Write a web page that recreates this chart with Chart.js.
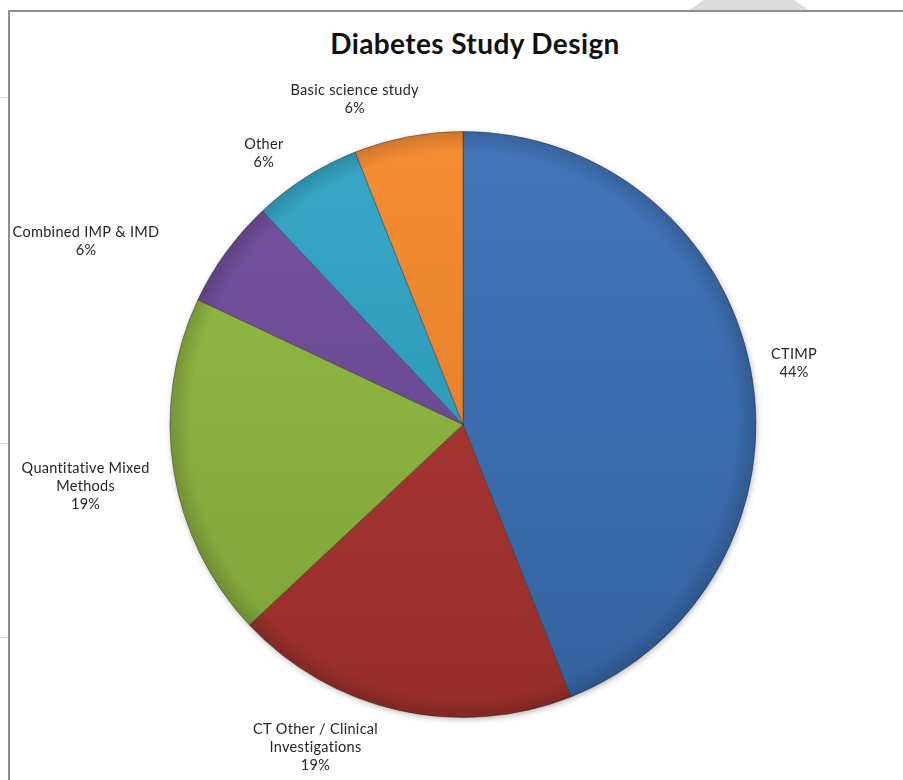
<!DOCTYPE html>
<html>
<head>
<meta charset="utf-8">
<title>Diabetes Study Design</title>
<script src="https://cdn.jsdelivr.net/npm/chart.js@4.4.1/dist/chart.umd.min.js"></script>
<style>
  html, body { margin: 0; padding: 0; background: #fff; overflow: hidden; }
  #wrap { position: relative; width: 903px; height: 780px; }
  #frame { position: absolute; left: 8px; top: 10px; width: 920px; height: 800px;
           border-top: 2px solid #8f8f8f; border-left: 2px solid #8f8f8f; }
  #tab { position: absolute; top: 0; left: 688px; width: 122px; height: 11px; background: #dcdcdc;
         clip-path: polygon(13% 0, 87% 0, 100% 100%, 0 100%); }
  .tick { position: absolute; left: 0; width: 8px; height: 1px; background: #d6d6d6; }
  #title { position: absolute; top: 28px; left: 0; width: 950px; text-align: center;
           font: bold 28px Lato, sans-serif; letter-spacing: 0.4px; line-height: 30px; color: #111; }
  #pie { position: absolute; left: 0; top: 0; }
</style>
</head>
<body>
<div id="wrap">
  <div id="tab"></div>
  <div id="frame"></div>
  <div class="tick" style="top:97px"></div>
  <div class="tick" style="top:443px"></div>
  <div class="tick" style="top:637px"></div>
  <div id="title">Diabetes Study Design</div>
  <canvas id="pie" width="903" height="780"></canvas>
</div>
<script>
// study design categories, clockwise from 12 o'clock
const categories = [
  'CTIMP',
  'CT Other / Clinical Investigations',
  'Quantitative Mixed Methods',
  'Combined IMP & IMD',
  'Other',
  'Basic science study'
];
const shares = [44, 19, 19, 6, 6, 6];
const sliceColors = ['#3b6fb6', '#ac3430', '#90b93f', '#6f4b9b', '#2fa3c6', '#f6882a'];

function mix(hex, target, t) {
  const n = parseInt(hex.slice(1), 16);
  const c = [n >> 16, (n >> 8) & 255, n & 255].map(v => Math.round(v + (target - v) * t));
  return 'rgb(' + c.join(',') + ')';
}

// top-lit fill for each slice
function sliceFill(ctx) {
  const base = sliceColors[ctx.dataIndex];
  const area = ctx.chart.chartArea;
  if (!area) return base;
  const g = ctx.chart.ctx.createLinearGradient(0, area.top, 0, area.bottom);
  g.addColorStop(0, mix(base, 255, 0.04));
  g.addColorStop(1, mix(base, 0, 0.12));
  return g;
}

function wrap(ctx, text, maxWidth) {
  const words = text.split(' ');
  const lines = [];
  let line = '';
  words.forEach(w => {
    const test = line ? line + ' ' + w : w;
    if (line && ctx.measureText(test).width > maxWidth) {
      lines.push(line);
      line = w;
    } else {
      line = test;
    }
  });
  lines.push(line);
  return lines;
}

// soft drop shadow under the pie
const pieShadow = {
  id: 'pieShadow',
  beforeDatasetsDraw(chart) {
    const arc = chart.getDatasetMeta(0).data[0];
    if (!arc) return;
    const {x, y, outerRadius} = arc.getProps(['x', 'y', 'outerRadius'], true);
    const ctx = chart.ctx;
    ctx.save();
    ctx.shadowColor = 'rgba(0,0,0,0.35)';
    ctx.shadowBlur = 7;
    ctx.shadowOffsetX = 1;
    ctx.shadowOffsetY = 2;
    ctx.beginPath();
    ctx.arc(x, y, outerRadius - 1, 0, Math.PI * 2);
    ctx.fillStyle = '#fff';
    ctx.fill();
    ctx.restore();
  }
};

// darkened bevel along the rim
const rimShade = {
  id: 'rimShade',
  afterDatasetsDraw(chart) {
    const arc = chart.getDatasetMeta(0).data[0];
    if (!arc) return;
    const {x, y, outerRadius} = arc.getProps(['x', 'y', 'outerRadius'], true);
    const ctx = chart.ctx;
    const g = ctx.createRadialGradient(x, y, outerRadius * 0.93, x, y, outerRadius);
    g.addColorStop(0, 'rgba(0,0,0,0)');
    g.addColorStop(1, 'rgba(0,0,0,0.16)');
    ctx.save();
    ctx.beginPath();
    ctx.arc(x, y, outerRadius, 0, Math.PI * 2);
    ctx.fillStyle = g;
    ctx.fill();
    ctx.restore();
  }
};

// category name + percentage outside each slice
const sliceLabels = {
  id: 'sliceLabels',
  afterDatasetsDraw(chart, args, opts) {
    const ctx = chart.ctx;
    const meta = chart.getDatasetMeta(0);
    const total = shares.reduce((a, b) => a + b, 0);
    ctx.save();
    ctx.font = opts.font;
    ctx.letterSpacing = opts.letterSpacing;
    ctx.fillStyle = opts.color;
    ctx.textAlign = 'center';
    ctx.textBaseline = 'middle';
    meta.data.forEach((arc, i) => {
      const {x, y, startAngle, endAngle, outerRadius} =
        arc.getProps(['x', 'y', 'startAngle', 'endAngle', 'outerRadius'], true);
      const mid = (startAngle + endAngle) / 2;
      const lines = wrap(ctx, categories[i], opts.maxWidth);
      lines.push(Math.round(shares[i] / total * 100) + '%');
      const w = Math.max(...lines.map(l => ctx.measureText(l).width));
      const h = lines.length * opts.lineHeight;
      const cos = Math.cos(mid), sin = Math.sin(mid);
      const ax = x + (outerRadius + opts.gap) * cos;
      const ay = y + (outerRadius + opts.gap) * sin;
      const n = opts.nudge[i] || [0, 0];
      const cx = ax + w / 2 * cos + n[0];
      const cy = ay + h / 2 * sin + n[1];
      lines.forEach((l, k) => ctx.fillText(l, cx, cy - h / 2 + opts.lineHeight * (k + 0.5)));
    });
    ctx.restore();
  }
};

new Chart(document.getElementById('pie'), {
  type: 'pie',
  data: {
    labels: categories,
    datasets: [{
      data: shares,
      backgroundColor: sliceFill,
      borderColor: 'rgba(35,35,35,0.4)',
      borderWidth: 1,
      hoverOffset: 0
    }]
  },
  options: {
    responsive: false,
    animation: false,
    events: [],
    radius: 293,
    layout: { padding: { left: 170, right: 147, top: 131, bottom: 62 } },
    plugins: {
      legend: { display: false },
      tooltip: { enabled: false },
      sliceLabels: {
        font: '14.5px Lato, sans-serif',
        letterSpacing: '0.3px',
        color: '#262626',
        lineHeight: 18,
        maxWidth: 150,
        gap: 18,
        nudge: [[3, 0], [-66, -7], [-7, 9], [-66, 10], [-22, 7], [-38, -2]]
      }
    }
  },
  plugins: [pieShadow, rimShade, sliceLabels]
});
</script>
</body>
</html>
